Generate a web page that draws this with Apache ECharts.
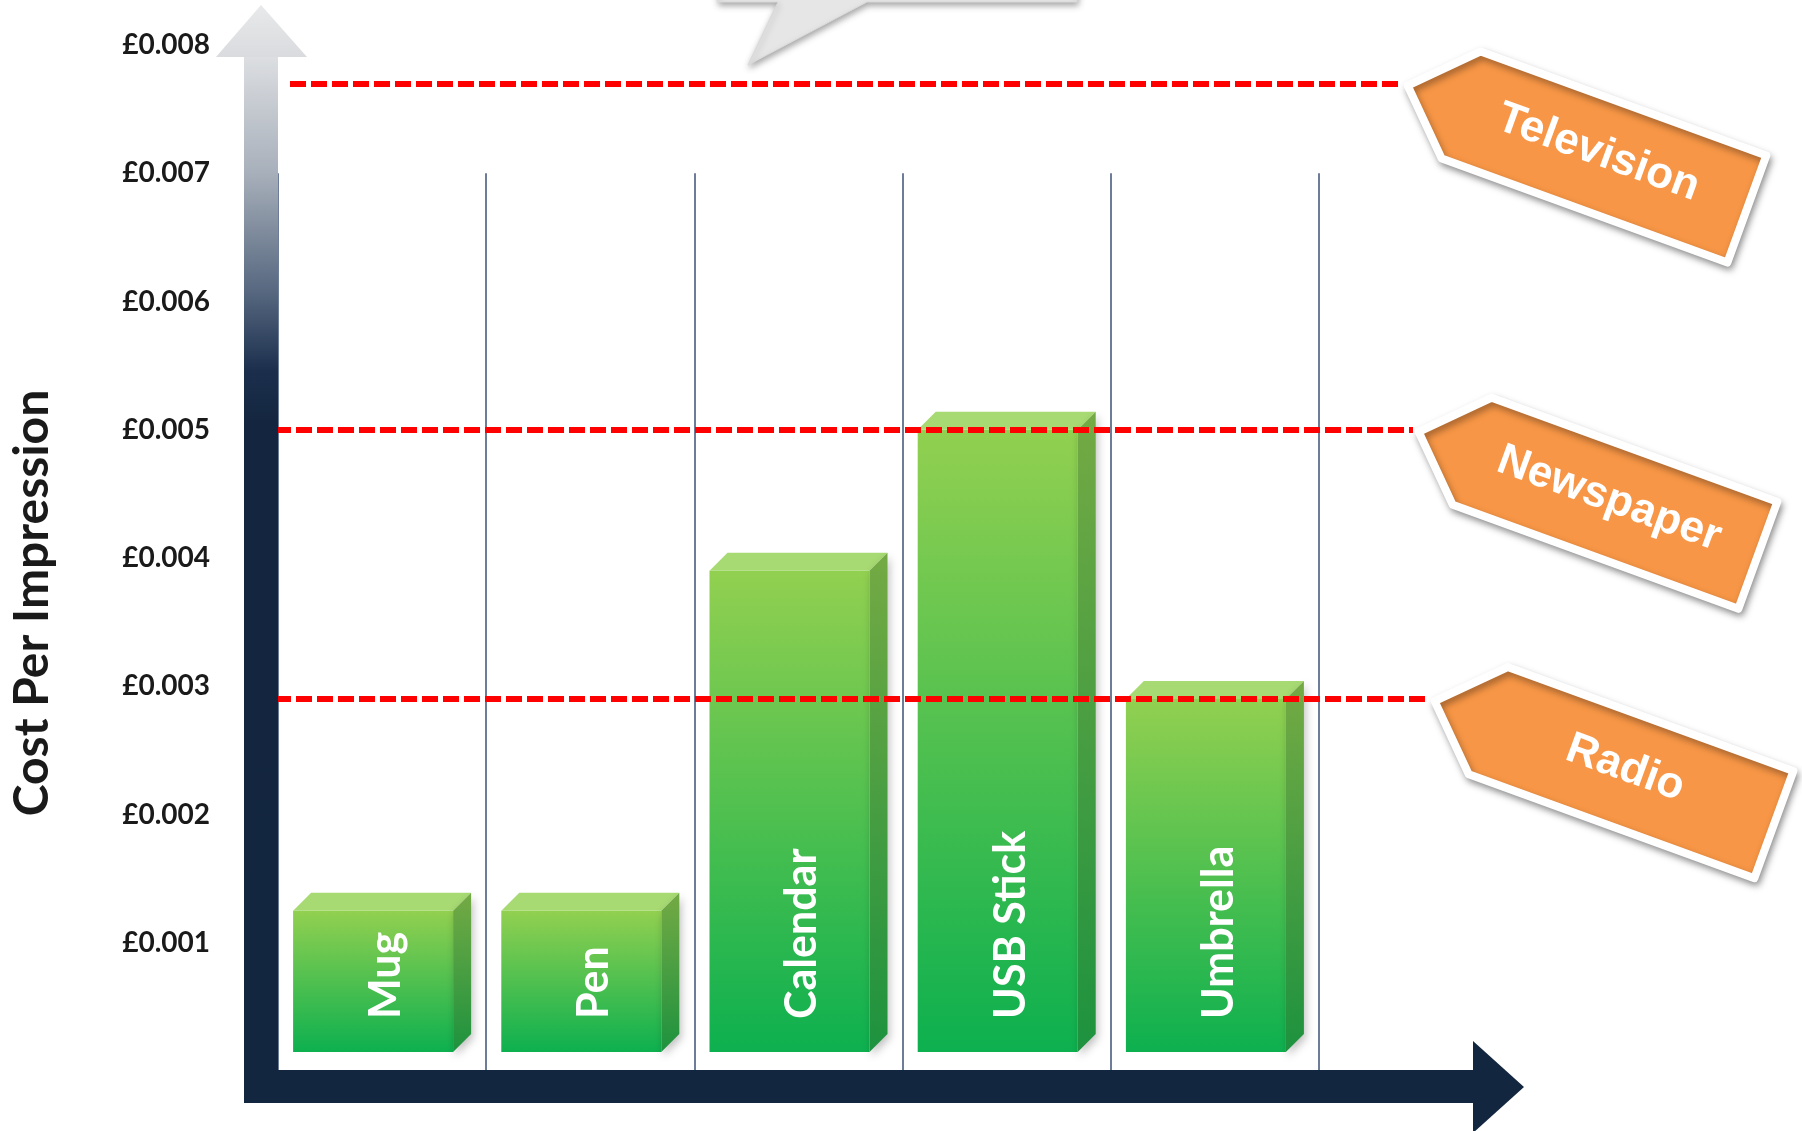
<!DOCTYPE html>
<html>
<head>
<meta charset="utf-8">
<script src="https://cdn.jsdelivr.net/npm/echarts@6/dist/echarts.min.js"></script>
<style>
  html, body { margin: 0; padding: 0; background: #ffffff; }
  #chart { width: 1802px; height: 1131px; }
</style>
</head>
<body>
<div id="chart"></div>
<script>
// Cost per impression: promotional products against traditional media (GBP)
const PRODUCTS = ['Mug', 'Pen', 'Calendar', 'USB Stick', 'Umbrella'];
const PRODUCT_COSTS = [0.00125, 0.00125, 0.0039, 0.005, 0.0029];

const CHANNELS = ['Television', 'Newspaper', 'Radio'];
const CHANNEL_COSTS = [0.0077, 0.005, 0.0029];

const TICK_VALUES = [0.001, 0.002, 0.003, 0.004, 0.005, 0.006, 0.007, 0.008];
const TICK_LABELS = ['£0.001', '£0.002', '£0.003', '£0.004', '£0.005', '£0.006', '£0.007', '£0.008'];

const AXIS_TITLE = 'Cost Per Impression';

// ---- layout & styling ----
const W = 1802, H = 1131;
const GRID = { left: 278, right: 483, top: 45, bottom: 60 };
const Y_MAX = 0.008;
const DIVIDER_TOP_VALUE = 0.007;      // column dividers reach up to this level
const BOX_DEPTH = 18;                 // 3D depth of the boxes
const FLOOR_LIFT = 19;                // boxes float just above the floor arrow
const BOX_RATIO = 0.77;               // front face width relative to the slot
const TAG_TIP_X = [1402, 1413, 1429]; // where each dashed line meets its tag
const LINE_START_X = [290, 275, 275];
const TAG_ANGLE = -20 * Math.PI / 180;

const chart = echarts.init(document.getElementById('chart'), null, { renderer: 'canvas' });

const plotH = H - GRID.top - GRID.bottom;
const dividerTop = GRID.top + (Y_MAX - DIVIDER_TOP_VALUE) / Y_MAX * plotH;

const frontFill = new echarts.graphic.LinearGradient(0, 0, 0, 1, [
  { offset: 0, color: '#92D050' },
  { offset: 1, color: '#0DB04F' }
]);
const sideFill = new echarts.graphic.LinearGradient(0, 0, 0, 1, [
  { offset: 0, color: '#74AA44' },
  { offset: 1, color: '#1D923F' }
]);

function renderBox(params, api) {
  const idx = api.value(0);
  const val = api.value(1);
  const top = api.coord([idx, val]);
  const zero = api.coord([idx, 0]);
  const slot = api.size([1, 0])[0];
  const fw = Math.round(slot * BOX_RATIO);
  const d = BOX_DEPTH;
  const left = top[0] - (fw + d) / 2;
  const right = left + fw;
  const yTop = top[1];
  const yBot = zero[1] - FLOOR_LIFT;
  const cx = left + (fw + d) / 2;
  return {
    type: 'group',
    children: [
      {
        type: 'rect',
        shape: { x: left, y: yTop, width: fw, height: yBot - yTop },
        style: {
          fill: frontFill,
          shadowBlur: 10, shadowOffsetX: -2, shadowOffsetY: 5,
          shadowColor: 'rgba(0,0,0,0.35)'
        }
      },
      {
        type: 'polygon',
        shape: { points: [[left, yTop], [left + d, yTop - d], [right + d, yTop - d], [right, yTop]] },
        style: { fill: '#A7DA72' }
      },
      {
        type: 'polygon',
        shape: { points: [[right, yTop], [right + d, yTop - d], [right + d, yBot - d], [right, yBot]] },
        style: {
          fill: sideFill,
          shadowBlur: 8, shadowOffsetX: 2, shadowOffsetY: 4,
          shadowColor: 'rgba(0,0,0,0.25)'
        }
      },
      {
        type: 'text',
        x: cx + 4,
        y: yBot - 33,
        rotation: Math.PI / 2,
        style: {
          text: PRODUCTS[idx],
          fill: '#ffffff',
          font: 'bold 43px Lato',
          textAlign: 'left', textVerticalAlign: 'middle',
          align: 'left', verticalAlign: 'middle'
        }
      }
    ]
  };
}

const option = {
  animation: false,
  backgroundColor: '#ffffff',
  grid: [
    { left: GRID.left, right: GRID.right, top: GRID.top, bottom: GRID.bottom },
    { left: GRID.left, right: GRID.right, top: dividerTop, bottom: GRID.bottom - 1 }
  ],
  xAxis: [
    {
      type: 'category', gridIndex: 0, data: PRODUCTS,
      axisLine: { show: false }, axisTick: { show: false },
      axisLabel: { show: false }, splitLine: { show: false }
    },
    {
      type: 'category', gridIndex: 1, data: PRODUCTS,
      axisLine: { show: false }, axisTick: { show: false },
      axisLabel: { show: false },
      splitLine: { show: true, interval: 0, lineStyle: { color: '#3E5275', width: 1.5 } }
    }
  ],
  yAxis: [
    {
      type: 'value', gridIndex: 0, min: 0, max: Y_MAX, interval: 0.001,
      axisLine: { show: false }, axisTick: { show: false }, splitLine: { show: false },
      axisLabel: {
        margin: 68,
        fontFamily: 'Lato', fontWeight: 'bold', fontSize: 28, color: '#1a1a1a',
        formatter: v => {
          const k = TICK_VALUES.findIndex(t => Math.abs(t - v) < 1e-9);
          return k >= 0 ? TICK_LABELS[k] : '';
        }
      }
    },
    {
      type: 'value', gridIndex: 1, min: 0, max: 1, show: false
    }
  ],
  series: [
    {
      type: 'custom',
      xAxisIndex: 0, yAxisIndex: 0,
      z: 2,
      renderItem: renderBox,
      data: PRODUCT_COSTS.map((v, i) => [i, v]),
      markLine: {
        silent: true,
        symbol: ['none', 'none'],
        label: { show: false },
        z: 6,
        lineStyle: { color: '#FF0000', width: 6, type: [16, 5], opacity: 1 },
        emphasis: { disabled: true },
        data: CHANNEL_COSTS.map((v, i) => [
          { x: LINE_START_X[i], yAxis: v },
          { x: TAG_TIP_X[i], yAxis: v }
        ])
      }
    }
  ]
};

chart.setOption(option);

// ---- decorations: axis arrows, title, callout and media tags ----
const floorY = H - GRID.bottom;
const shaftL = GRID.left - 34, shaftW = 34;

const graphics = [];

// partial speech bubble at the top edge
graphics.push({
  type: 'polygon', z: 5,
  shape: { points: [[718, -60], [1077, -60], [1077, 2], [867, 2], [748, 65], [778, 2], [718, 2]] },
  style: {
    fill: '#E6E6E6', stroke: '#DADADA', lineWidth: 1,
    shadowBlur: 6, shadowOffsetX: 1, shadowOffsetY: 3, shadowColor: 'rgba(0,0,0,0.35)'
  }
});

// vertical arrow (value axis)
graphics.push({
  type: 'rect', z: 10,
  shape: { x: shaftL, y: 57, width: shaftW, height: floorY + 32 - 57 },
  style: {
    fill: new echarts.graphic.LinearGradient(0, 0, 0, 1, [
      { offset: 0, color: '#DCDEE1' },
      { offset: 0.11, color: '#A8B0BB' },
      { offset: 0.225, color: '#56677F' },
      { offset: 0.30, color: '#1B2F4D' },
      { offset: 0.35, color: '#14263F' },
      { offset: 1, color: '#13263F' }
    ])
  }
});
graphics.push({
  type: 'polygon', z: 10,
  shape: { points: [[shaftL - 28, 57], [shaftL + shaftW + 29, 57], [shaftL + shaftW / 2, 5]] },
  style: {
    fill: new echarts.graphic.LinearGradient(0, 0, 0, 1, [
      { offset: 0, color: '#E8E9EA' },
      { offset: 1, color: '#D9DBDE' }
    ])
  }
});

// horizontal arrow (category axis)
graphics.push({
  type: 'rect', z: 10,
  shape: { x: shaftL, y: floorY - 1, width: 1473 - shaftL, height: 33 },
  style: { fill: '#13263F' }
});
graphics.push({
  type: 'polygon', z: 10,
  shape: { points: [[1473, 1041], [1473, 1133], [1524, 1087]] },
  style: { fill: '#13263F' }
});

// axis title
graphics.push({
  type: 'text', z: 10,
  x: 33, y: 603, rotation: Math.PI / 2,
  style: {
    text: AXIS_TITLE, fill: '#1a1a1a', font: 'bold 48px Lato',
    textAlign: 'center', textVerticalAlign: 'middle',
    align: 'center', verticalAlign: 'middle'
  }
});

// media tags at the end of each dashed line
CHANNELS.forEach((name, i) => {
  const tipY = chart.convertToPixel({ yAxisIndex: 0 }, CHANNEL_COSTS[i]);
  graphics.push({
    type: 'group', z: 20,
    x: TAG_TIP_X[i], y: tipY, rotation: TAG_ANGLE,
    children: [
      {
        type: 'polygon',
        shape: { points: [[6, 0], [63, -57], [367, -57], [367, 57], [63, 57]] },
        style: {
          fill: '#F79646', stroke: '#FFFFFF', lineWidth: 8, lineJoin: 'round',
          shadowBlur: 7, shadowOffsetX: 2, shadowOffsetY: 4, shadowColor: 'rgba(0,0,0,0.35)'
        }
      },
      {
        type: 'text',
        x: 208, y: -2,
        style: {
          text: name, fill: '#FFFFFF', font: 'bold 44px "Liberation Sans"',
          textAlign: 'center', textVerticalAlign: 'middle',
          align: 'center', verticalAlign: 'middle'
        }
      }
    ]
  });
});

chart.setOption({ graphic: graphics });
</script>
</body>
</html>
